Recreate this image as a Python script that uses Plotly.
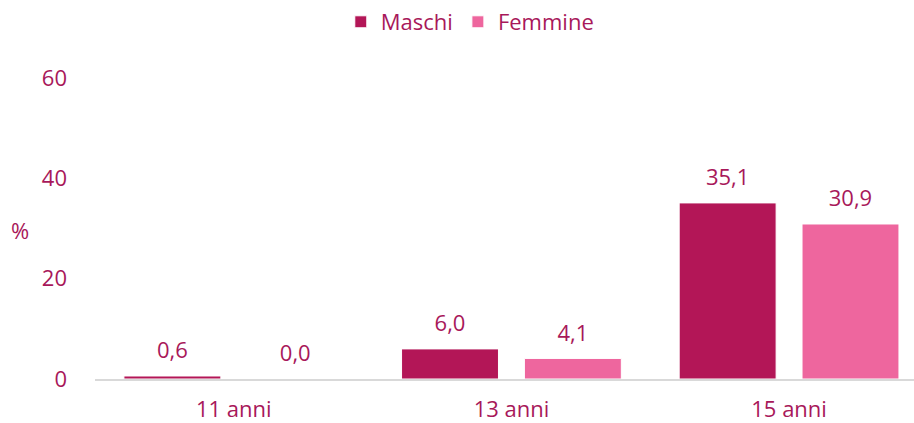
import plotly.graph_objects as go

categories = ["11 anni", "13 anni", "15 anni"]
maschi = [0.6, 6.0, 35.1]
femmine = [0.0, 4.1, 30.9]
y_ticks = [0, 20, 40, 60]

text_color = "#A8185A"
c_m = "#B31657"
c_f = "#EE669E"
font_family = "Open Sans, sans-serif"
FS = 22
GAP = 0.115

def fmt(v):
    return f"{v:.1f}".replace(".", ",")

fig = go.Figure()
for name, vals, col in [("Maschi", maschi, c_m), ("Femmine", femmine, c_f)]:
    fig.add_trace(go.Bar(
        name=name, x=categories, y=vals, offsetgroup=name,
        marker=dict(color=col, line=dict(color="white", width=1)),
    ))
for name, vals in [("Maschi", maschi), ("Femmine", femmine)]:
    fig.add_trace(go.Scatter(
        x=categories, y=vals, mode="markers+text", showlegend=False,
        offsetgroup=name, hoverinfo="skip",
        marker=dict(size=18, opacity=0),
        text=[fmt(v) for v in vals], textposition="top center",
        textfont=dict(size=FS, color=text_color, family=font_family),
        cliponaxis=False,
    ))

fig.update_layout(
    width=914, height=423,
    margin=dict(l=95, r=0, t=78, b=44, autoexpand=False),
    paper_bgcolor="white", plot_bgcolor="white",
    barmode="group", bargap=GAP, bargroupgap=0.211,
    scattermode="group", scattergap=GAP,
    font=dict(family=font_family, size=FS, color=text_color),
    showlegend=True,
    legend=dict(orientation="h", x=0.514, xanchor="center", xref="container",
                y=0.948, yanchor="middle", yref="container",
                font=dict(size=FS, color=text_color),
                itemwidth=30, traceorder="normal"),
    xaxis=dict(showline=True, linecolor="#D9D9D9", linewidth=2, ticks="",
               range=[-0.5, 2.45], tickfont=dict(size=FS, color=text_color),
               ticklabelstandoff=10, showgrid=False, automargin=False),
    yaxis=dict(range=[0, 60], tickvals=y_ticks, showgrid=False, zeroline=False,
               showline=False, ticks="", ticklabelstandoff=27, automargin=False,
               tickfont=dict(size=FS, color=text_color)),
)
fig.add_annotation(text="%", xref="paper", yref="paper",
                   x=-0.092, y=0.495, xanchor="center", yanchor="middle",
                   showarrow=False, font=dict(size=FS, color=text_color))

fig.write_html("out.html", config={"displayModeBar": False},
               post_script="document.body.style.margin='0';")
